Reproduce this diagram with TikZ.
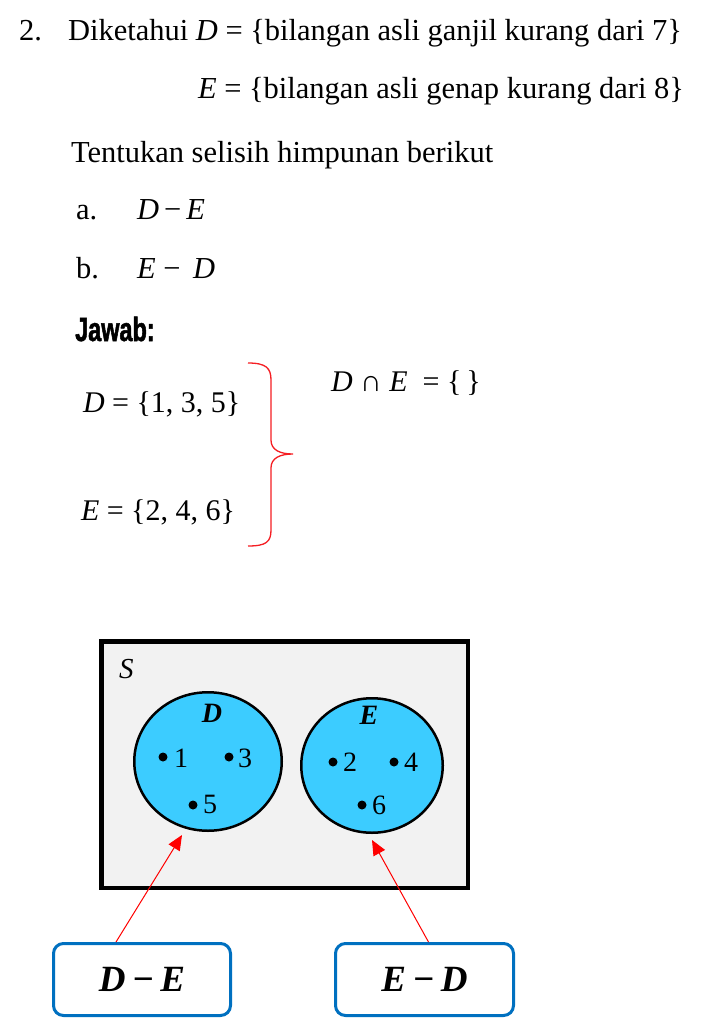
\documentclass[tikz,border=0pt]{standalone}
\usepackage{fontspec}
\setmainfont{Liberation Serif}
\newfontfamily\jawabfont{Liberation Sans}[FakeStretch=0.7,FakeBold=1.5]
\usetikzlibrary{shapes.geometric,arrows.meta}
\definecolor{cyanfill}{RGB}{60,204,255}
\definecolor{bgray}{RGB}{242,242,242}
\definecolor{boxblue}{RGB}{0,112,192}
\definecolor{bracered}{RGB}{245,30,35}
\tikzset{
  txt/.style={anchor=base west, inner sep=0pt, outer sep=0pt, font=\fontsize{30.5}{36}\selectfont},
  mtxt/.style={anchor=base west, inner sep=0pt, outer sep=0pt, font=\fontsize{30}{34}\selectfont},
  setcirc/.style={ellipse, draw=black, line width=2.5pt, fill=cyanfill, inner sep=0pt},
  ansbox/.style={draw=boxblue, line width=3pt, rounded corners=10pt, fill=white, inner sep=0pt,
     font=\fontsize{37}{40}\selectfont\bfseries\itshape},
  redarrow/.style={draw=red, line width=1pt, -{Triangle[length=15pt,width=13pt]}},
  eldot/.style={circle, fill=black, inner sep=0pt, minimum size=9pt},
  num/.style={anchor=base west, inner sep=0pt, outer sep=0pt, font=\fontsize{28}{30}\selectfont},
  setlabel/.style={anchor=base, inner sep=0pt, outer sep=0pt, font=\fontsize{28}{30}\selectfont\bfseries\itshape},
}
\begin{document}
\begin{tikzpicture}[x=1pt,y=-1pt]
\useasboundingbox (0,0) rectangle (711,1024);
\fill[white] (0,0) rectangle (711,1024);

% question text
\node[txt] (n2) at (19,41) {2.};
\node[txt] (l1) at (68,41) {Diketahui \textit{D} = \{bilangan asli ganjil kurang dari 7\}};
\node[txt] (l2) at (198,99) {\textit{E} = \{bilangan asli genap kurang dari 8\}};
\node[txt] (l3) at (71,163) {Tentukan selisih himpunan berikut};
\node[txt] (la) at (76,219) {a.};
\node[txt] (lam) at (137,219) {\textit{D}\,−\,\textit{E}};
\node[txt] (lb) at (76,278) {b.};
\node[txt] (lbm) at (137,278) {\textit{E} −\, \textit{D}};

% answer
\node[anchor=base west, inner sep=0pt, font=\jawabfont\bfseries\fontsize{33.5}{36}\selectfont] (jw) at (75,341) {Jawab:};
\node[mtxt] (dset) at (83,412) {\textit{D} = \{1, 3, 5\}};
\node[mtxt] (eset) at (81,520) {\textit{E} = \{2, 4, 6\}};
\node[mtxt] (cap) at (331,391) {\textit{D} ∩ \textit{E}\enspace = \{\,\}};
\draw[bracered, line width=1.3pt]
  (248,363) .. controls (266,363) and (271,368) .. (271,380) -- (271,440)
  .. controls (271,450) and (280,454) .. (293,454)
  .. controls (280,454) and (271,458) .. (271,468) -- (271,530)
  .. controls (271,542) and (266,546) .. (248,546);

% Venn diagram
\node[draw=black, fill=bgray, line width=4.5pt, minimum width=366.5pt, minimum height=246.5pt, inner sep=0pt] (S) at (284.75,764.75) {};
\node[anchor=base west, inner sep=0pt, font=\fontsize{29}{32}\selectfont\itshape] (Slab) at (119,678) {S};
\node[setcirc, minimum width=147.5pt, minimum height=138.5pt] (cD) at (208,761.5) {};
\node[setcirc, minimum width=141.5pt, minimum height=134.5pt] (cE) at (372,765.5) {};
\node[setlabel] (Dlab) at (212,722) {D};
\node[setlabel] (Elab) at (369,724) {E};

\node[eldot] (d1) at (163,757) {};
\node[num] (n1) at (174,767) {1};
\node[eldot] (d3) at (229,757) {};
\node[num] (n3) at (238,767) {3};
\node[eldot] (d5) at (193,805) {};
\node[num] (n5) at (203,813) {5};
\node[eldot] (d2) at (333,762) {};
\node[num] (nn2) at (343,771) {2};
\node[eldot] (d4) at (394,762) {};
\node[num] (n4) at (404,771) {4};
\node[eldot] (d6) at (362,805) {};
\node[num] (n6) at (372,814) {6};

% answer boxes
\node[ansbox, minimum width=177pt, minimum height=72pt] (bDE) at (142,979.5) {D\,−\,E};
\node[ansbox, minimum width=178pt, minimum height=72pt] (bED) at (424.5,979.5) {E\,−\,D};

\coordinate (tD) at (182,835);
\coordinate (tE) at (372,840);
\draw[redarrow] ([xshift=-26pt]bDE.north) -- (tD);
\draw[redarrow] ([xshift=4pt]bED.north) -- (tE);
\end{tikzpicture}
\end{document}
